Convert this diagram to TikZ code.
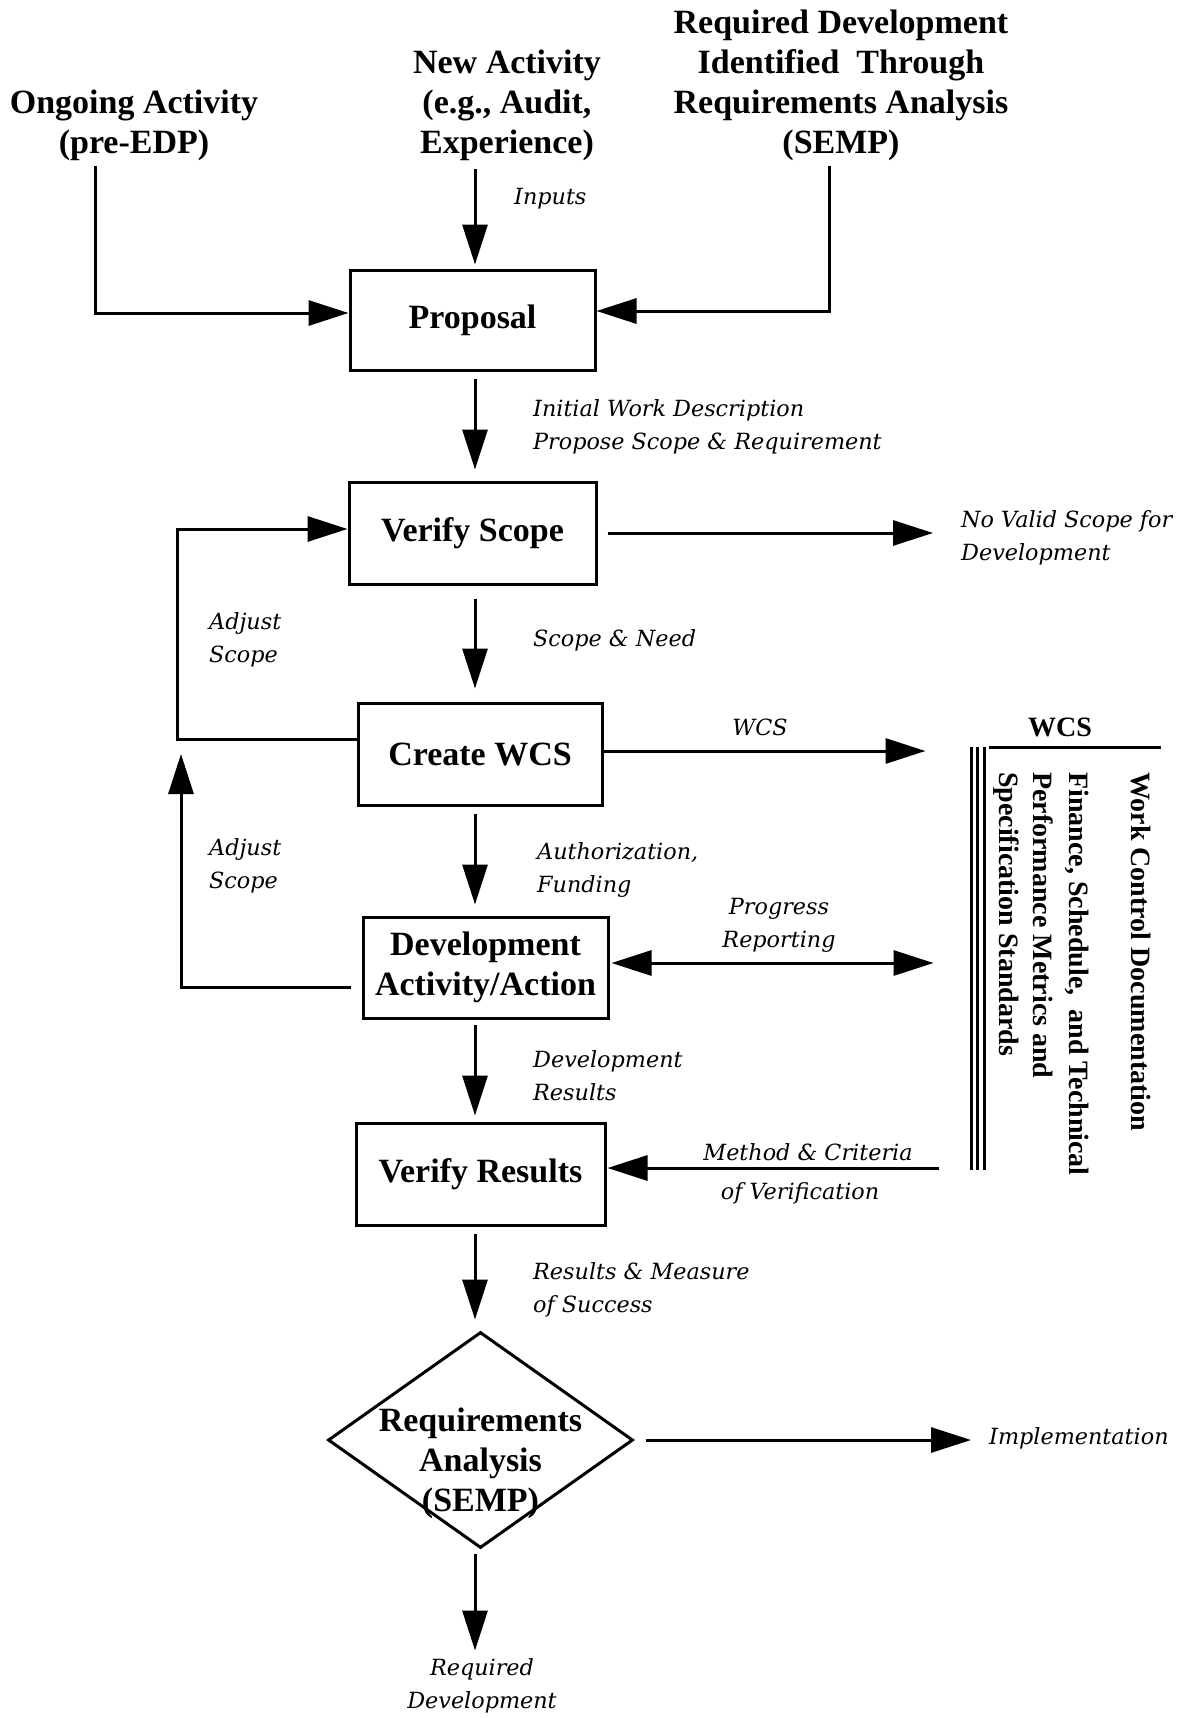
\documentclass[tikz,border=0pt]{standalone}
\usepackage{fontspec}
\setmainfont{Liberation Serif}
\newfontfamily\labserif{DejaVu Serif}
\usetikzlibrary{arrows.meta,shapes.geometric}
\newcommand\bxfont{\fontsize{34}{40}\selectfont\bfseries}
\newcommand\tpfont{\fontsize{34}{40}\selectfont\bfseries}
\newcommand\lbfont{\labserif\itshape\fontsize{22.3}{33}\selectfont}
\newcommand\rtfont{\fontsize{28}{34}\selectfont\bfseries}
\begin{document}
\begin{tikzpicture}[x=1pt,y=-1pt,
  stepbox/.style={draw, line width=3pt, inner sep=0pt, font=\bxfont, align=center},
  decision/.style={draw, diamond, line width=3pt, inner sep=0pt},
  toplab/.style={font=\tpfont, align=center, inner sep=0pt},
  lab/.style={font=\lbfont, align=left, inner sep=0pt},
  rotlab/.style={font=\rtfont, rotate=-90, anchor=west, inner sep=0pt},
  arr/.style={line width=3pt, -{Triangle[length=40pt 0 0,width=25pt 0]}},
  dblarr/.style={line width=3pt, {Triangle[length=40pt 0 0,width=25pt 0]}-{Triangle[length=40pt 0 0,width=25pt 0]}},
  flow/.style={arr, shorten <=7pt, shorten >=11pt}]
\useasboundingbox (0,0) rectangle (1184,1718);

% ---- sources ----
\node[toplab] (ongoing) at (134,125) {Ongoing Activity\\(pre-EDP)};
\node[toplab] (newact) at (507,105) {New Activity\\(e.g., Audit,\\Experience)};
\node[toplab] (reqtop) at (841,85) {Required Development\\Identified\ \ Through\\Requirements Analysis\\(SEMP)};

% ---- process steps ----
\node[stepbox, minimum width=245pt, minimum height=100pt] (proposal) at (472.5,320) {Proposal};
\node[stepbox, minimum width=247pt, minimum height=102pt] (vscope) at (472.5,533) {Verify Scope};
\node[stepbox, minimum width=244pt, minimum height=102pt] (cwcs) at (480,754) {Create WCS};
\node[stepbox, minimum width=245pt, minimum height=101pt] (dev) at (485.5,967.5) {Development\\Activity/Action};
\node[stepbox, minimum width=249pt, minimum height=102pt] (vres) at (480.5,1174) {Verify Results};
\node[decision, minimum width=305pt, minimum height=216pt] (reqan) at (480.5,1440) {};
\node[font=\bxfont, align=center, inner sep=0pt] (reqtxt) at (480.5,1463) {Requirements\\Analysis\\(SEMP)};

% ---- WCS documentation panel ----
\node[font=\rtfont, inner sep=0pt] (wcshead) at (1060,727) {WCS};
\draw[line width=3pt] (989,747) -- (1161,747);
\foreach \bx in {971,977.5,984} \draw[line width=3pt] (\bx,747) -- (\bx,1170);
\coordinate (wcsbar) at (977.5,960);
\node[rotlab] (wcdoc) at (1141,772) {Work Control Documentation};
\node[rotlab] (wcfin) at (1077,772) {Finance, Schedule,\ \ and Technical};
\node[rotlab] (wcperf) at (1043,772) {Performance Metrics and};
\node[rotlab] (wcspec) at (1006,772) {Specification Standards};

% ---- labels ----
\node[lab, anchor=west] (inputs) at (514,199) {Inputs};
\node[lab, anchor=west] (initwd) at (533,427) {Initial Work Description\\Propose Scope \& Requirement};
\node[lab, anchor=west] (novalid) at (961,538) {No Valid Scope for\\Development};
\node[lab, anchor=west] (scneed) at (533,640) {Scope \& Need};
\node[lab, anchor=west] (adj1) at (209,640) {Adjust\\Scope};
\node[lab] (wcslab) at (760,727) {WCS};
\node[lab, anchor=west] (authf) at (537,870) {Authorization,\\Funding};
\node[lab, anchor=west] (adj2) at (209,866) {Adjust\\Scope};
\node[lab, align=center] (progr) at (779,925) {Progress\\Reporting};
\node[lab, anchor=west] (devres) at (533,1076) {Development\\Results};
\node[lab] (methcr) at (808,1152) {Method \& Criteria};
\node[lab] (ofver) at (800,1193) {of Verification};
\node[lab, anchor=west] (resms) at (533,1290) {Results \& Measure\\of Success};
\node[lab, anchor=west] (implem) at (989,1438) {Implementation};
\node[lab, align=center] (reqdev) at (482,1686) {Required\\Development};

% ---- input connectors ----
\coordinate (og) at (95,166);
\coordinate (sp) at (829,166);
\coordinate (spine) at (475,0);
\draw[arr] (og) |- ([yshift=7pt]proposal.west);
\draw[arr] (sp) |- ([yshift=9pt]proposal.east);
\draw[arr, shorten <=8pt, shorten >=4pt] (newact.south -| spine) -- (proposal.north -| spine);

% ---- main flow ----
\draw[flow] (proposal.south -| spine) -- (vscope.north -| spine);
\draw[flow, shorten <=13pt, shorten >=13pt] (vscope.south -| spine) -- (cwcs.north -| spine);
\draw[flow] (cwcs.south -| spine) -- (dev.north -| spine);
\draw[flow, shorten <=5pt, shorten >=6pt] (dev.south -| spine) -- (vres.north -| spine);
\draw[flow] (vres.south -| spine) -- (reqan.north -| spine);
\draw[flow, shorten <=4pt, shorten >=8pt] (reqan.south -| spine) -- (reqdev.north -| spine);

% ---- side outputs ----
\draw[arr, shorten <=10pt, shorten >=28pt] (vscope.east) -- (vscope.east -| novalid.west);
\draw[arr, shorten >=52pt] ([yshift=3pt]cwcs.east) -- ([yshift=3pt]cwcs.east -| wcsbar);
\draw[dblarr, shorten <=2pt, shorten >=44pt] ([yshift=4.5pt]dev.east) -- ([yshift=4.5pt]dev.east -| wcsbar);
\draw[arr, shorten <=39pt, shorten >=1pt] ([yshift=6pt]vres.east -| wcsbar) -- ([yshift=6pt]vres.east);
\draw[arr, shorten <=11pt, shorten >=18pt] (reqan.east) -- (reqan.east -| implem.west);

% ---- scope feedback loops ----
\coordinate (fbl1) at (177,739);
\draw[arr] ([yshift=15pt]cwcs.west) -- (fbl1) |- ([yshift=4pt]vscope.west);
\coordinate (fbl2) at (181,987);
\coordinate (fbt2) at (181,754);
\draw[arr, shorten <=11pt] ([yshift=-19.5pt]dev.west) -- (fbl2) -- (fbt2);
\end{tikzpicture}
\end{document}
